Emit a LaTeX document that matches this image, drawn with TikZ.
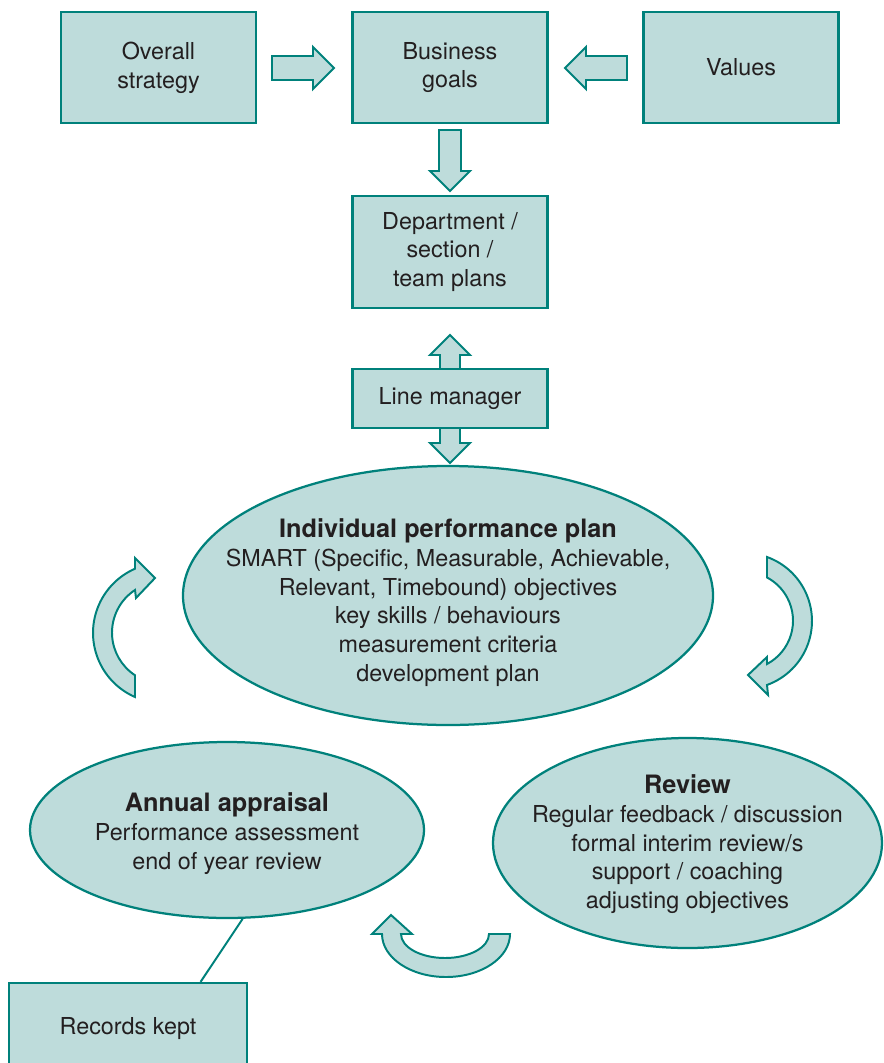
\documentclass[tikz,border=0pt]{standalone}
\usepackage{fontspec}
\setmainfont{TeX Gyre Heros}
\usetikzlibrary{shapes.geometric}
\definecolor{tealline}{HTML}{00817B}
\definecolor{tealfill}{HTML}{BEDCDB}
\definecolor{inktext}{HTML}{231F20}
\newcommand{\pxl}{0.025cm}
\newcommand{\ovaltitle}[1]{{\fontsize{18}{20.4}\selectfont\bfseries #1}}

\begin{document}
\begin{tikzpicture}[x=\pxl,y=-\pxl,
    every node/.style={font=\fontsize{16.6}{20.4}\selectfont,align=center,text=inktext},
    box/.style={draw=tealline,fill=tealfill,line width=1.6pt,inner sep=0pt,
      minimum width=195*\pxl,minimum height=111*\pxl},
    oval/.style={draw=tealline,fill=tealfill,line width=1.6pt,ellipse,inner sep=0pt},
    blockarrow/.style={draw=tealline,fill=tealfill,line width=1.4pt,line join=miter},
    link/.style={draw=tealline,line width=1.4pt}]
  \useasboundingbox (0,0) rectangle (883,1063);
  \clip (0,0) rectangle (883,1063);

  % top row
  \node[box] (overall) at (158.5,67.5) {Overall\\strategy};
  \node[box] (goals) at (450,67.5) {Business\\goals};
  \node[box] (values) at (741,67.5) {Values};
  \draw[blockarrow] (272,56) -- (313,56) -- (313,47) -- (334,68) -- (313,89) -- (313,80) -- (272,80) -- cycle;
  \draw[blockarrow] (627,56) -- (586,56) -- (586,47) -- (565,68) -- (586,89) -- (586,80) -- (627,80) -- cycle;

  % plans
  \draw[blockarrow] (439,130) -- (461,130) -- (461,171) -- (470,171) -- (450,191) -- (430,171) -- (439,171) -- cycle;
  \node[box,minimum height=112*\pxl] (dept) at (450,252) {Department /\\section /\\team plans};
  \draw[blockarrow] (450,335) -- (470,355) -- (460,355) -- (460,443) -- (470,443) -- (450,463)
    -- (430,443) -- (440,443) -- (440,355) -- (430,355) -- cycle;
  \node[box,minimum height=59*\pxl] (manager) at (450,398.5) {Line manager};

  % cycle
  \node[oval,minimum width=530*\pxl,minimum height=259*\pxl] (plan) at (448,595.5) {};
  \node[yshift=-5pt] (plantext) at (plan.center) {\ovaltitle{Individual performance plan}\\
    SMART (Specific, Measurable, Achievable,\\Relevant, Timebound) objectives\\key skills / behaviours\\
    measurement criteria\\development plan};
  \node[oval,minimum width=394*\pxl,minimum height=176*\pxl] (appraisal) at (227,830) {};
  \node[yshift=-2.5pt] (appraisaltext) at (appraisal.center) {\ovaltitle{Annual appraisal}\\
    Performance assessment\\end of year review};
  \node[oval,minimum width=389*\pxl,minimum height=210*\pxl] (review) at (687.5,843) {};
  \node[yshift=-1pt] (reviewtext) at (review.center) {\ovaltitle{Review}\\Regular feedback / discussion\\
    formal interim review/s\\support / coaching\\adjusting objectives};

  \draw[blockarrow] (135,697) arc[start angle=113.6,end angle=246.4,radius=70] -- (135,558) -- (155,578)
    -- (136,598) -- (135,590) arc[start angle=236.7,end angle=123.3,radius=51] -- cycle;
  \draw[blockarrow] (767,557) arc[start angle=-70.2,end angle=70.2,radius=68] -- (768,695) -- (748,675)
    -- (767,657) -- (767,664) arc[start angle=62,end angle=-62,radius=49] -- cycle;
  \draw[blockarrow] (510,934) arc[start angle=0,end angle=180,x radius=64,y radius=43] -- (372,934) -- (391,915)
    -- (412,934) -- (401,934) arc[start angle=180,end angle=0,x radius=44,y radius=24] -- cycle;

  % records
  \node[box,minimum width=238*\pxl,minimum height=92*\pxl] (records) at (128,1029) {Records kept};
  \draw[link] (appraisal.-80) -- (records.33);
\end{tikzpicture}
\end{document}
